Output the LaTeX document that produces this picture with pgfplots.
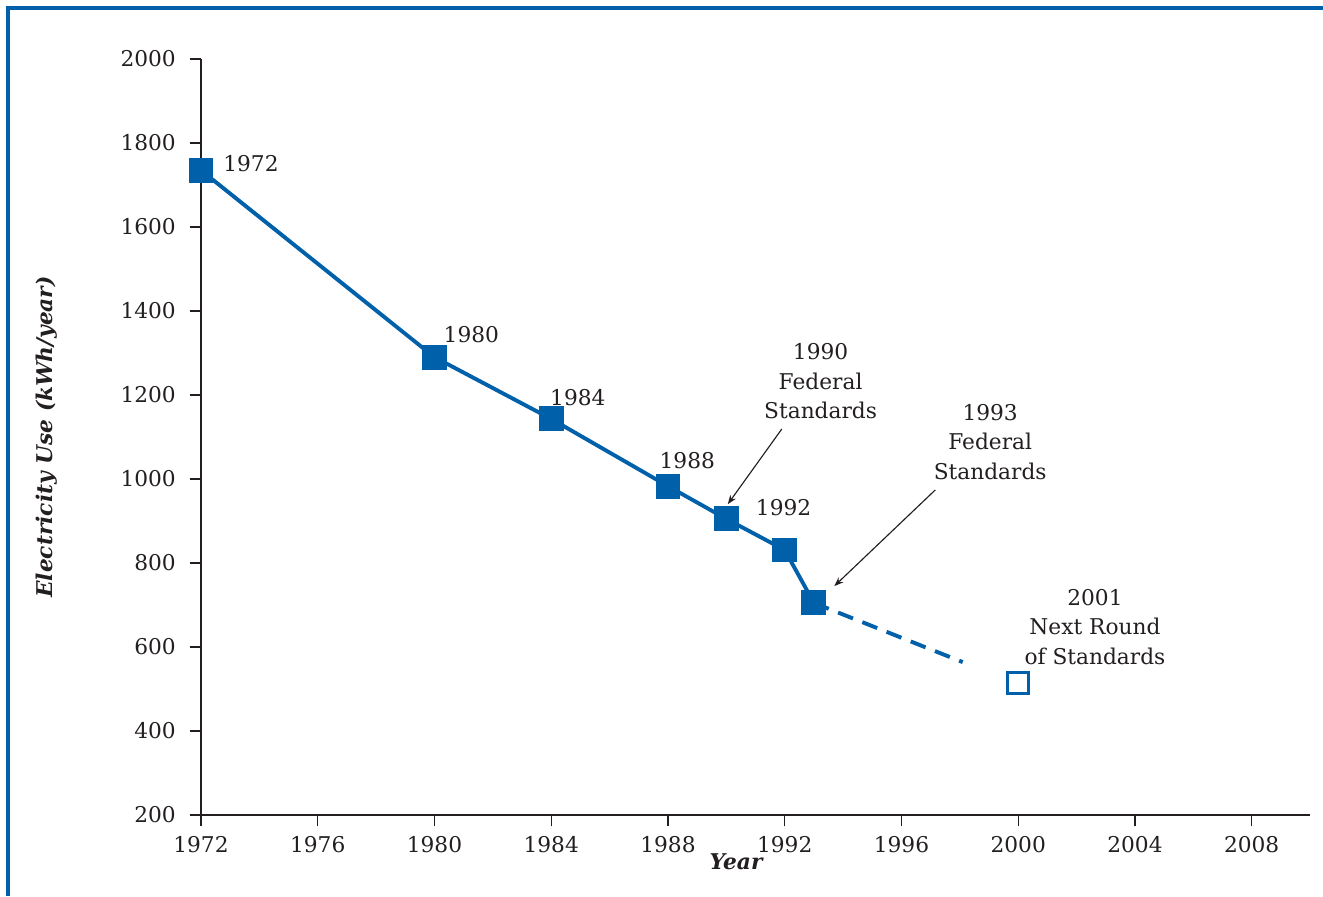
\documentclass[border=0pt]{standalone}
\usepackage{fontspec}
\setmainfont{DejaVu Serif}
\usepackage{pgfplots}
\pgfplotsset{compat=1.18}
\usetikzlibrary{arrows.meta}

\definecolor{doeblue}{RGB}{0,96,170}
\definecolor{axisgray}{RGB}{35,31,32}

\begin{document}
\begin{tikzpicture}[font=\fontsize{9.5}{12.9}\selectfont]
% page is 1323x896 px, 1px = 0.4375pt
\useasboundingbox (0,0) rectangle (578.81pt,392pt);
\draw[doeblue, line width=1.5pt] (3.5pt,0) -- (3.5pt,388.5pt) -- (578.81pt,388.5pt);

\begin{axis}[
    at={(87.94pt,35.44pt)}, anchor=south west,
    scale only axis,
    width=485.2pt, height=330.75pt,
    xmin=1972, xmax=2010,
    ymin=200, ymax=2000,
    xtick={1972,1976,...,2008},
    ytick={200,400,...,2000},
    axis x line=bottom, axis y line=left,
    axis line style={-, line width=1.1pt, axisgray},
    tick style={axisgray, line width=0.6pt},
    tick align=outside,
    major tick length=5pt,
    xticklabel style={/pgf/number format/1000 sep={}, yshift=-1pt},
    yticklabel style={/pgf/number format/1000 sep={}, xshift=-2.5pt},
    /pgf/number format/assume math mode=true,
    tick label style={font=\fontsize{9.5}{12}\selectfont, text=axisgray},
    clip=false,
]
\addplot[doeblue, line width=1.7pt, dash pattern=on 7pt off 4.4pt] coordinates {
    (1993,705) (1998.1,564)
};
\addplot[doeblue, line width=1.7pt, mark=square*, mark size=4.6pt,
         mark options={solid, fill=doeblue}] coordinates {
    (1972,1735)
    (1980,1290)
    (1984,1143)
    (1988,983)
    (1990,905)
    (1992,831)
    (1993,705)
};
\addplot[doeblue, only marks, mark=square, mark size=4.7pt,
         mark options={line width=1.3pt}] coordinates {
    (2000,514)
};

\begin{scope}[text=axisgray]
\node[anchor=west, inner sep=0pt] at (axis cs:1972.75,1752) {1972};
\node[anchor=west, inner sep=0pt] at (axis cs:1980.3,1345) {1980};
\node[anchor=west, inner sep=0pt] at (axis cs:1983.95,1193) {1984};
\node[anchor=west, inner sep=0pt] at (axis cs:1987.7,1043) {1988};
\node[anchor=west, inner sep=0pt] at (axis cs:1991.0,933) {1992};
\node[align=center] at (axis cs:1993.23,1233) {1990\\Federal\\Standards};
\node[align=center] at (axis cs:1999.04,1088) {1993\\Federal\\Standards};
\node[align=center] at (axis cs:2002.63,648) {2001\\Next Round\\of Standards};
\node[xshift=-67.4pt, rotate=90] at (rel axis cs:0,0.5)
    {\textbf{\textit{Electricity Use (kWh/year)}}};
\node[yshift=-20.6pt] at (rel axis cs:0.483,0) {\textbf{\textit{Year}}};
\end{scope}
\draw[axisgray, line width=0.5pt, -{Stealth[length=4pt, width=3pt]}]
    (axis cs:1991.9,1119) -- (axis cs:1990.05,940);
\draw[axisgray, line width=0.5pt, -{Stealth[length=4pt, width=3pt]}]
    (axis cs:1997.16,974) -- (axis cs:1993.7,745);
\end{axis}
\end{tikzpicture}
\end{document}
